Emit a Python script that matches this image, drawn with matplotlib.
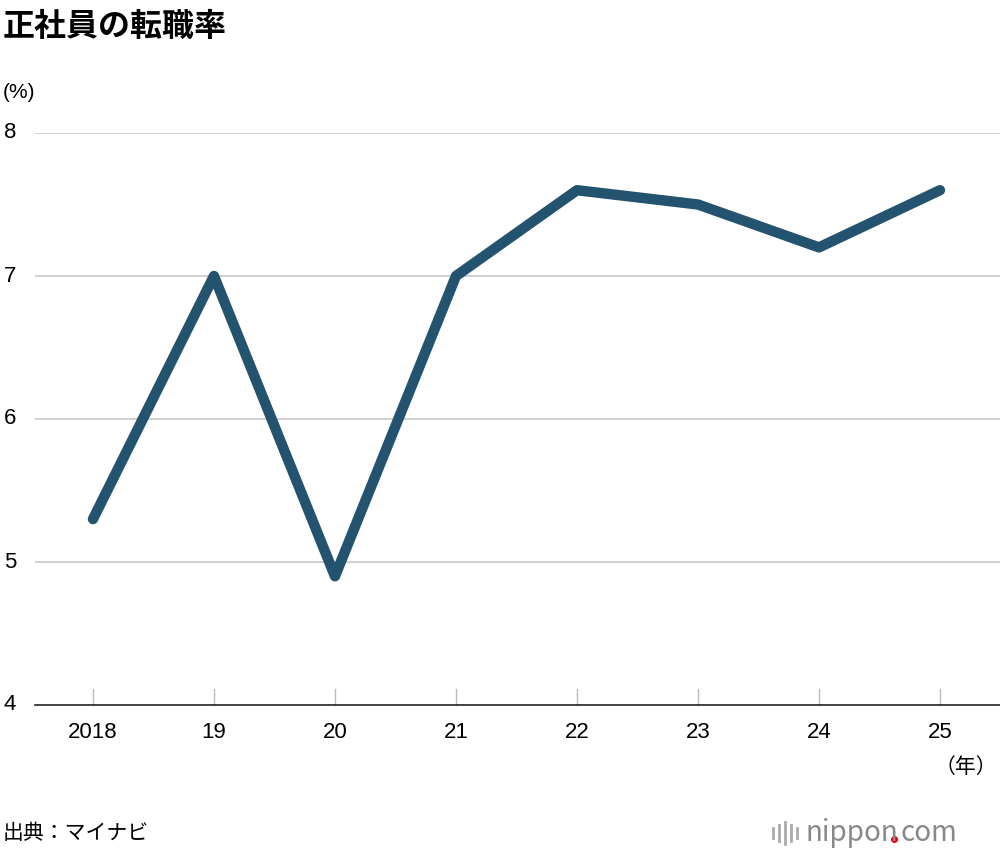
import matplotlib
matplotlib.use("Agg")
import matplotlib.pyplot as plt

plt.rcParams['font.family'] = ['Noto Sans CJK JP', 'DejaVu Sans']
NUMFONT = ['Liberation Sans', 'DejaVu Sans']

# データ
years = ["2018", "19", "20", "21", "22", "23", "24", "25"]
rates = [5.3, 7.0, 4.9, 7.0, 7.6, 7.5, 7.2, 7.6]
yticks = [4, 5, 6, 7, 8]

fig = plt.figure(figsize=(10, 8.56), dpi=100)
ax = fig.add_axes([0.035, 1 - 705 / 856, 0.965, (705 - 133) / 856])

x = list(range(len(years)))
ax.plot(x, rates, color="#24536f", lw=7.5, solid_joinstyle="round", solid_capstyle="round", zorder=3)

ax.set_ylim(4, 8)
ax.set_xlim(-0.479, 7.496)
ax.set_yticks(yticks)
ax.set_yticklabels([])
for v in yticks:
    if v > 4:
        ax.axhline(v, color="#c8c8c8", lw=1.2, zorder=1)
    fig.text(0.004, (1 - (705 - (v - 4) * 143) / 856), str(v), fontsize=16, va="center", ha="left",
             family=NUMFONT)
ax.tick_params(axis="y", length=0)

ax.set_xticks(x)
ax.set_xticklabels(years, fontsize=16, family=NUMFONT)
ax.tick_params(axis="x", direction="in", length=0, pad=12)
for xi in x:
    ax.plot([xi, xi], [4.0, 4.11], color="#bbbbbb", lw=1, clip_on=False)

for s in ["top", "right", "left"]:
    ax.spines[s].set_visible(False)
ax.spines["bottom"].set_color("#222222")
ax.spines["bottom"].set_linewidth(1.2)

fig.text(0.003, 1 - 27 / 856, "正社員の転職率", fontsize=23, fontweight="bold", va="center")
fig.text(0.003, 1 - 93 / 856, "(%)", fontsize=15, va="center", family=NUMFONT)
fig.text(0.997, 1 - 767 / 856, "（年）", fontsize=15, va="center", ha="right")
fig.text(0.003, 1 - 833 / 856, "出典：マイナビ", fontsize=15, va="center")

# ロゴ
ly = 1 - 833 / 856
fig.text(0.806, ly, "nippon", fontsize=20, color="#888888", va="center", ha="left")
fig.add_artist(plt.Line2D([0.8935], [1 - 839 / 856], marker="o", ms=4, color="#e60012", lw=0))
fig.text(0.9, ly, "com", fontsize=20, color="#888888", va="center", ha="left")
for i, h in enumerate([10, 16, 22, 16, 10]):
    fig.add_artist(plt.Line2D([0.773 + i * 0.006] * 2, [1 - (833 + h / 2) / 856, 1 - (833 - h / 2) / 856],
                              color="#aaaaaa", lw=2))

fig.savefig("out.png", dpi=100)
